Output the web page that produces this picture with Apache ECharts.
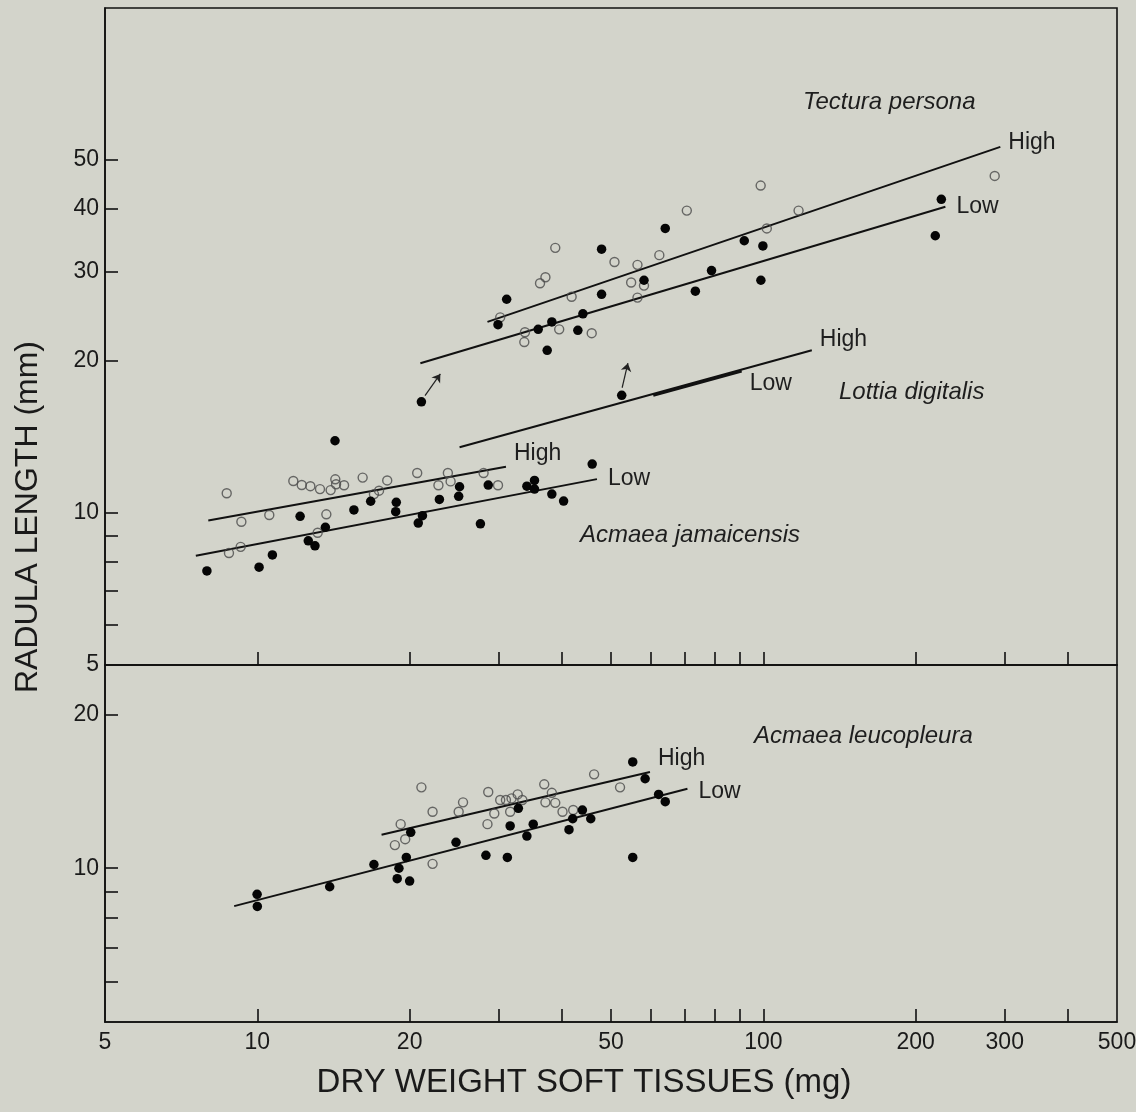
<!DOCTYPE html>
<html>
<head>
<meta charset="utf-8">
<script src="https://cdn.jsdelivr.net/npm/echarts@6/dist/echarts.min.js"></script>
<style>
html,body{margin:0;padding:0;background:#d3d4cb;}
#chart{width:1136px;height:1112px;}
</style>
</head>
<body>
<div id="chart"></div>
<script>
// ---------- Tick values / labels ----------
const xTickValues = [10,20,30,40,50,60,70,80,90,100,200,300,400];
const xLabelValues = [5,10,20,50,100,200,300,500];
const yTopTicks = [6,7,8,9,10,20,30,40,50];
const yTopLabels = [5,10,20,30,40,50];
const yBottomTicks = [6,7,8,9,10,20];
const yBottomLabels = [10,20];

// ---------- Tectura persona ----------
const tecturaOpen = [[98.8,44.5],[70.6,39.7],[101.6,36.6],[38.8,33.5],[50.8,31.4],[56.4,31.0],[62.3,32.4],
  [37.1,29.3],[36.2,28.5],[54.8,28.6],[58.1,28.2],[41.8,26.8],[56.4,26.7],[117.4,39.7],[286.6,46.5],
  [30.2,24.4],[33.8,22.8],[33.7,21.8],[39.5,23.1],[45.8,22.7]];
const tecturaFilled = [[64.0,36.6],[91.7,34.6],[99.8,33.8],[47.9,33.3],[58.1,28.9],[79.0,30.2],[47.9,27.1],
  [73.4,27.5],[98.9,28.9],[31.1,26.5],[224.8,41.8],[218.7,35.4],[29.9,23.6],[44.0,24.8],[38.2,23.9],
  [35.9,23.1],[43.0,23.0],[37.4,21.0]];
const tecturaHighLine = [[28.5,23.9],[294,53.1]];
const tecturaLowLine = [[21.0,19.8],[229,40.4]];

// ---------- Lottia digitalis ----------
const lottiaFilled = [[21.1,16.6],[52.5,17.1]];
const lottiaArrows = [[[21.45,17.07],[23.0,18.85]],[[52.6,17.7],[54.0,19.8]]];
const lottiaHighLine = [[25.1,13.5],[124.7,21.0]];
const lottiaLowLine = [[60.6,17.1],[90.6,19.1]];

// ---------- Acmaea jamaicensis ----------
const jamaicensisOpen = [[8.70,10.94],[9.30,9.61],[10.56,9.91],[8.79,8.33],[9.27,8.57],[11.78,11.57],[12.24,11.36],
  [12.73,11.3],[13.3,11.15],[13.96,11.1],[14.26,11.66],[14.31,11.4],[14.84,11.35],[16.15,11.75],[17.0,10.9],
  [17.4,11.07],[18.06,11.6],[13.69,9.94],[13.16,9.14],[20.7,12.0],[23.8,12.0],[22.8,11.35],[24.1,11.55],
  [28.0,12.0],[29.9,11.35]];
const jamaicensisFilled = [[7.95,7.68],[10.08,7.81],[10.71,8.26],[12.15,9.85],[12.61,8.81],[13.0,8.61],[13.63,9.37],
  [14.24,13.9],[15.52,10.14],[16.75,10.55],[18.82,10.5],[18.77,10.06],[20.8,9.55],[21.2,9.88],[22.9,10.64],
  [25.0,10.79],[25.1,11.27],[27.6,9.52],[28.6,11.36],[34.1,11.3],[35.3,11.6],[35.3,11.15],[38.2,10.9],
  [40.3,10.56],[45.9,12.5]];
const jamaicensisHighLine = [[8.0,9.66],[31.0,12.35]];
const jamaicensisLowLine = [[7.56,8.23],[46.9,11.67]];

// ---------- Acmaea leucopleura ----------
const leucopleuraOpen = [[21.1,14.4],[19.2,12.2],[19.6,11.4],[18.7,11.1],[22.2,12.9],[22.2,10.2],[25.0,12.9],
  [25.5,13.46],[28.6,14.1],[28.5,12.2],[29.4,12.8],[30.2,13.6],[31.0,13.6],[31.6,12.9],[31.8,13.7],[32.7,13.95],
  [33.4,13.6],[36.9,14.6],[37.1,13.46],[38.2,14.05],[38.8,13.43],[40.1,12.9],[42.1,13.0],[46.3,15.27],[52.1,14.4]];
const leucopleuraFilled = [[9.99,8.89],[10.0,8.42],[13.9,9.2],[17.0,10.17],[19.05,10.0],[18.9,9.54],[19.7,10.5],
  [20.0,9.44],[20.1,11.76],[24.7,11.24],[28.3,10.6],[31.2,10.5],[31.6,12.1],[32.8,13.1],[34.1,11.56],[35.1,12.2],
  [41.3,11.9],[42.0,12.5],[43.9,13.0],[45.6,12.5],[55.2,16.15],[55.2,10.5],[58.4,14.97],[62.1,13.95],[64.0,13.5]];
const leucopleuraHighLine = [[17.6,11.63],[59.7,15.43]];
const leucopleuraLowLine = [[9.0,8.43],[70.8,14.31]];

// ---------- Text ----------
const speciesNames = ['Tectura persona','Lottia digitalis','Acmaea jamaicensis','Acmaea leucopleura'];
const xTitle = 'DRY WEIGHT SOFT TISSUES (mg)';
const yTitle = 'RADULA LENGTH (mm)';

const FONT = '"Liberation Sans", Arial, Helvetica, sans-serif';
const INK = '#111111';

function openSeries(data, g){
  return {type:'scatter', xAxisIndex:g, yAxisIndex:g, data:data, symbol:'circle', symbolSize:9, z:5,
    itemStyle:{color:'rgba(0,0,0,0)', borderColor:'#4a4a4a', borderWidth:1.4}};
}
function filledSeries(data, g){
  return {type:'scatter', xAxisIndex:g, yAxisIndex:g, data:data, symbol:'circle', symbolSize:9.5, z:6,
    itemStyle:{color:'#050505', opacity:1}};
}
function fitLine(data, g, text, offset, width){
  return {type:'line', xAxisIndex:g, yAxisIndex:g, data:data, symbol:'none', z:4,
    lineStyle:{color:INK, width:width||2},
    endLabel:{show:true, formatter:text, offset:offset, fontFamily:FONT, fontSize:23, color:'#1e1e1e'}};
}

function xAxisFor(g, showLabels){
  return {type:'log', gridIndex:g, min:5, max:500, logBase:10,
    axisLine:{show:true, lineStyle:{color:INK, width:1.6}},
    axisTick:{show:true, inside:true, length:13, customValues:xTickValues, lineStyle:{color:INK, width:1.6}},
    axisLabel:{show:showLabels, customValues:xLabelValues, margin:9, fontFamily:FONT, fontSize:23, color:'#1a1a1a'},
    splitLine:{show:false}, minorTick:{show:false},
    name: showLabels ? xTitle : '', nameLocation:'middle', nameGap:44,
    nameTextStyle:{fontFamily:FONT, fontSize:33, color:'#1a1a1a', padding:[0,54,0,0]}};
}
function yAxisFor(g, min, max, ticks, labels){
  return {type:'log', gridIndex:g, min:min, max:max, logBase:10,
    axisLine:{show:true, lineStyle:{color:INK, width:1.6}},
    axisTick:{show:true, inside:true, length:13, customValues:ticks, lineStyle:{color:INK, width:1.6}},
    axisLabel:{show:true, customValues:labels, margin:6, fontFamily:FONT, fontSize:23, color:'#1a1a1a'},
    splitLine:{show:false}, minorTick:{show:false}};
}

const chart = echarts.init(document.getElementById('chart'), null, {renderer:'canvas'});
chart.setOption({
  animation:false,
  backgroundColor:'#d3d4cb',
  textStyle:{fontFamily:FONT},
  grid:[
    {left:105, top:8, width:1012, height:657, show:true, borderColor:INK, borderWidth:1.6, backgroundColor:'transparent', outerBoundsMode:'none', containLabel:false},
    {left:105, top:665, width:1012, height:357, show:true, borderColor:INK, borderWidth:1.6, backgroundColor:'transparent', outerBoundsMode:'none', containLabel:false}
  ],
  xAxis:[xAxisFor(0,false), xAxisFor(1,true)],
  yAxis:[yAxisFor(0,5,100,yTopTicks,yTopLabels), yAxisFor(1,5,25,yBottomTicks,yBottomLabels)],
  graphic:[
    {type:'text', left:803, top:90, style:{text:speciesNames[0], font:'italic 24px '+FONT, fill:'#1e1e1e'}},
    {type:'text', left:839, top:380, style:{text:speciesNames[1], font:'italic 24px '+FONT, fill:'#1e1e1e'}},
    {type:'text', left:580, top:523, style:{text:speciesNames[2], font:'italic 24px '+FONT, fill:'#1e1e1e'}},
    {type:'text', left:754, top:724, style:{text:speciesNames[3], font:'italic 24px '+FONT, fill:'#1e1e1e'}},
    {type:'text', x:28, y:517, rotation:Math.PI/2, style:{text:yTitle, font:'32px '+FONT, fill:'#1a1a1a', align:'center', verticalAlign:'middle'}}
  ],
  series:[
    fitLine(tecturaHighLine,0,'High',[0,-4]),
    fitLine(tecturaLowLine,0,'Low',[3,0]),
    openSeries(tecturaOpen,0),
    filledSeries(tecturaFilled,0),
    fitLine(lottiaHighLine,0,'High',[0,-11]),
    fitLine(lottiaLowLine,0,'Low',[0,13],3),
    filledSeries(lottiaFilled,0),
    {type:'lines', coordinateSystem:'cartesian2d', xAxisIndex:0, yAxisIndex:0, z:4,
      symbol:['none','arrow'], symbolSize:[0,8],
      lineStyle:{color:'#222', width:1.2, opacity:1},
      data:lottiaArrows.map(c=>({coords:c}))},
    fitLine(jamaicensisHighLine,0,'High',[0,-13]),
    fitLine(jamaicensisLowLine,0,'Low',[3,0]),
    openSeries(jamaicensisOpen,0),
    filledSeries(jamaicensisFilled,0),
    fitLine(leucopleuraHighLine,1,'High',[0,-13]),
    fitLine(leucopleuraLowLine,1,'Low',[3,3]),
    openSeries(leucopleuraOpen,1),
    filledSeries(leucopleuraFilled,1)
  ]
});
</script>
</body>
</html>
